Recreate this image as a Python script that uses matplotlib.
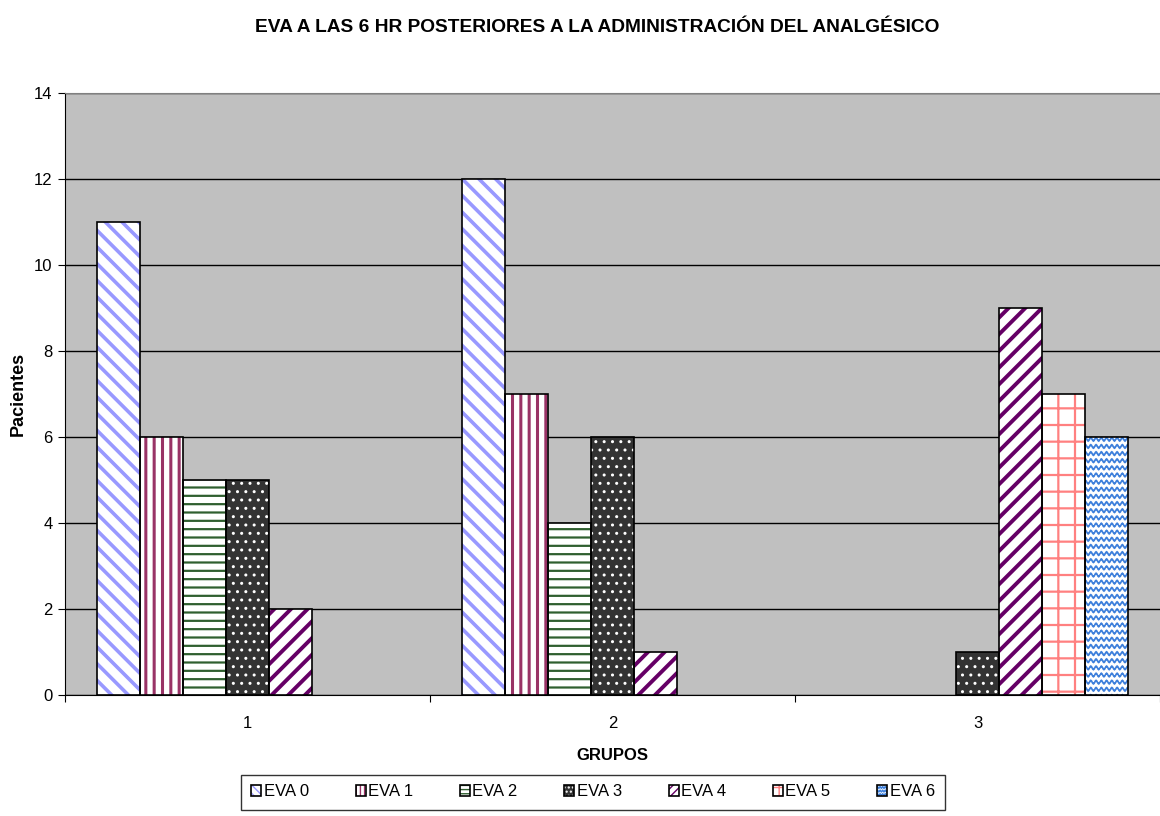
import numpy as np
import matplotlib
matplotlib.use("Agg")
import matplotlib.pyplot as plt
from matplotlib.patches import Patch
from matplotlib.path import Path
from matplotlib import hatch as mhatch

plt.rcParams['font.family'] = ['Liberation Sans', 'DejaVu Sans']
plt.rcParams['font.size'] = 12

groups = ['1', '2', '3']
series = ['EVA 0', 'EVA 1', 'EVA 2', 'EVA 3', 'EVA 4', 'EVA 5', 'EVA 6']
counts = [
    [11, 12, 0],   # EVA 0
    [6, 7, 0],     # EVA 1
    [5, 4, 0],     # EVA 2
    [5, 6, 1],     # EVA 3
    [2, 1, 9],     # EVA 4
    [0, 0, 7],     # EVA 5
    [0, 0, 6],     # EVA 6
]

# face colour, hatch colour, hatch pattern, hatch line width
styles = [
    ('white', '#9999FF', '\\\\', 2.6),
    ('white', '#993366', '||', 2.2),
    ('white', '#2F5F2F', '--', 1.6),
    ('#333333', 'white', '..', 1.0),
    ('white', '#660066', '//', 2.8),
    ('white', '#FF8080', '+', 1.6),
    ('white', '#3D7FDB', '~~', 1.2),
]


class WaveHatch(mhatch.HatchPatternBase):
    """Rows of small sine waves, drawn for the '~' hatch character."""
    PTS = 8

    def __init__(self, hatch, density):
        self.num_rows = int(hatch.count('~') * density * 1.2)
        self.periods = int(self.num_rows * 1.4)
        self.per_row = self.periods * self.PTS + 1
        self.num_vertices = self.num_rows * self.per_row

    def set_vertices_and_codes(self, vertices, codes):
        if self.num_rows == 0:
            return
        rows = (np.arange(self.num_rows) + 0.5) / self.num_rows
        xs = np.linspace(0, 1, self.per_row)
        amp = 0.25 / self.num_rows
        wave = amp * np.sin(2 * np.pi * self.periods * xs)
        for i, y0 in enumerate(rows):
            sl = slice(i * self.per_row, (i + 1) * self.per_row)
            vertices[sl, 0] = xs
            vertices[sl, 1] = y0 + wave
            codes[sl] = Path.LINETO
            codes[i * self.per_row] = Path.MOVETO


mhatch._hatch_types.append(WaveHatch)

fig = plt.figure(figsize=(11.6, 8.16), dpi=100)
ax = fig.add_axes([65 / 1160, 1 - 695 / 816, 1095 / 1160, 602 / 816])
ax.set_facecolor('#C0C0C0')

x = np.arange(len(groups))
width = 0.118
offsets = (np.arange(len(series)) - (len(series) - 1) / 2) * width

handles = []
for i, name in enumerate(series):
    face, hcol, pat, hlw = styles[i]
    vals = np.array(counts[i], dtype=float)
    with plt.rc_context({'hatch.linewidth': hlw}):
        ax.bar(x + offsets[i], vals, width, color=face, edgecolor=hcol,
               hatch=pat, linewidth=0, zorder=3)
        fill = Patch(facecolor=face, edgecolor=hcol, hatch=pat * 2, linewidth=0)
    outline = Patch(facecolor='none', edgecolor='black', linewidth=1.2)
    handles.append((fill, outline))
    # black outline on top of the hatched fill
    ax.bar(x + offsets[i], vals, width, facecolor='none',
           edgecolor=np.where(vals > 0, 'black', 'none').tolist(),
           linewidth=1.2, zorder=4)

ax.set_xlim(-0.5, 2.5)
ax.set_ylim(0, 14)
ax.set_yticks(np.arange(0, 15, 2))
ax.yaxis.grid(True, color='black', linewidth=1)
ax.set_axisbelow(True)

# group labels at the centres, tick marks at the group boundaries
ax.set_xticks(np.arange(-0.5, 3, 1))
ax.set_xticklabels([])
ax.set_xticks(x, minor=True)
ax.set_xticklabels(groups, minor=True)
ax.tick_params(axis='x', which='major', direction='out', length=5, color='black')
ax.tick_params(axis='x', which='minor', length=0, pad=15, labelsize=12)
ax.tick_params(axis='y', direction='out', length=5, pad=4, labelsize=12)

ax.spines['top'].set_color('#808080')
ax.spines['right'].set_visible(False)
ax.spines['left'].set_color('black')
ax.spines['bottom'].set_color('black')

ax.set_ylabel('Pacientes', fontweight='bold', fontsize=13, labelpad=5)
fig.text(612 / 1160, 1 - 755 / 816, 'GRUPOS', ha='center', va='center',
         fontweight='bold', fontsize=12)
fig.text(597 / 1160, 1 - 27 / 816,
         'EVA A LAS 6 HR POSTERIORES A LA ADMINISTRACIÓN DEL ANALGÉSICO',
         ha='center', va='center', fontweight='bold', fontsize=13.8)

leg = fig.legend(handles, series, loc='center', ncol=7,
                 bbox_to_anchor=(593 / 1160, 1 - 792 / 816),
                 frameon=True, fancybox=False, edgecolor='black',
                 handlelength=0.6, handleheight=0.6, handletextpad=0.15,
                 columnspacing=2.8, borderpad=0.6, borderaxespad=0,
                 fontsize=12)
leg.get_frame().set_linewidth(1)

fig.savefig('out.png', dpi=100)
